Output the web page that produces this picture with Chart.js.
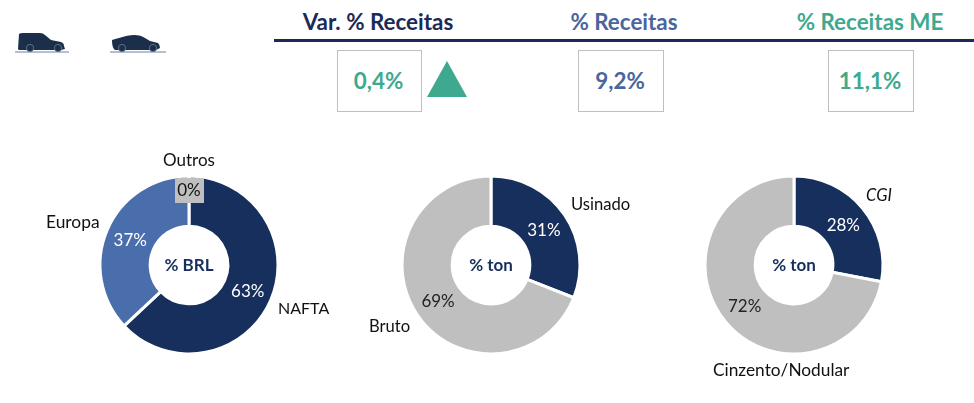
<!DOCTYPE html>
<html>
<head>
<meta charset="utf-8">
<script src="https://cdn.jsdelivr.net/npm/chart.js@4"></script>
<style>
  html, body { margin: 0; background: #fff; }
  #page { position: relative; width: 974px; height: 403px; overflow: hidden; font-family: Lato, sans-serif; }
  .abs { position: absolute; white-space: nowrap; }
  .head { top: 8px; font-size: 22.4px; font-weight: 700; line-height: 28px; transform: translateX(-50%); }
  .kpi { top: 50px; height: 60px; line-height: 60px; border: 1px solid #bfbfbf; text-align: center; font-size: 22.4px; font-weight: 700; box-sizing: content-box; }
  .lbl { font-size: 16.6px; color: #111; line-height: 20px; }
  .wrap { position: absolute; top: 165px; width: 200px; height: 200px; }
  #rule { position: absolute; left: 274px; top: 39px; width: 700px; height: 3px; background: #1b2a56; }
</style>
</head>
<body>
<div id="page">
  <svg class="abs" style="left:14px;top:30px;filter:blur(0.4px)" width="160" height="26" viewBox="0 0 160 26">
    <rect x="1" y="21" width="54" height="2" fill="#b4c0cf"/>
    <rect x="96" y="21" width="56" height="2" fill="#b4c0cf"/>
    <g fill="#1c2f4a">
      <path d="M5 4 Q6 3 9 3 L26 3 Q29 3 31 5 L37 10 L47 12 Q50 13 50 16 L51 19 L47 20 L5 20 L4 19 Z"/>
      <path d="M98 10 Q101 9 105 8 Q114 5 120 5 Q127 5 131 8 L136 11 L144 13 Q146 15 146 18 L142 20 L101 20 Q98 18 98 10 Z"/>
    </g>
    <g fill="#1c2f4a" stroke="#5d7188" stroke-width="1">
      <circle cx="16" cy="18" r="3.6"/><circle cx="44" cy="18" r="3.6"/>
      <circle cx="108" cy="18" r="3.6"/><circle cx="139" cy="18" r="3.6"/>
    </g>
  </svg>

  <div class="abs head" style="left:378px;color:#1b2a56">Var. % Receitas</div>
  <div class="abs head" style="left:624px;color:#4a659e">% Receitas</div>
  <div class="abs head" style="left:870px;color:#3fa98f">% Receitas ME</div>
  <div id="rule"></div>

  <div class="abs kpi" style="left:337px;width:83px;color:#3fa98f;text-indent:-2px">0,4%</div>
  <svg class="abs" style="left:427px;top:61px" width="40" height="36"><polygon points="20,0 40,36 0,36" fill="#3fa98f"/></svg>
  <div class="abs kpi" style="left:578px;width:84px;color:#4a659e;text-indent:-2px">9,2%</div>
  <div class="abs kpi" style="left:828px;width:84px;color:#3fa98f;text-indent:-2px">11,1%</div>

  <div class="wrap" style="left:89px"><canvas id="chartRegion" width="200" height="200"></canvas></div>
  <div class="wrap" style="left:391px"><canvas id="chartProcess" width="200" height="200"></canvas></div>
  <div class="wrap" style="left:694px"><canvas id="chartIron" width="200" height="200"></canvas></div>

  <div class="abs lbl" style="left:163px;top:150px;font-size:17px">Outros</div>
  <div class="abs lbl" style="left:46px;top:212px;font-size:17.4px">Europa</div>
  <div class="abs lbl" style="left:278px;top:298px;font-size:16px">NAFTA</div>
  <div class="abs lbl" style="left:571px;top:194px">Usinado</div>
  <div class="abs lbl" style="left:369px;top:316px">Bruto</div>
  <div class="abs lbl" style="left:866px;top:185px;font-style:italic">CGI</div>
  <div class="abs lbl" style="left:713px;top:360px;font-size:17.3px">Cinzento/Nodular</div>
</div>

<script>
const regionLabels = ['NAFTA', 'Europa', 'Outros'];
const regionValues = [63, 37, 0];
const processLabels = ['Usinado', 'Bruto'];
const processValues = [31, 69];
const ironLabels = ['CGI', 'Cinzento/Nodular'];
const ironValues = [28, 72];

const NAVY = '#172f5c';
const BLUE = '#4a6dab';
const GREY = '#bfbfbf';

// value labels in the ring plus the title in the hole
const ringLabels = {
  id: 'ringLabels',
  afterDatasetsDraw(chart, args, opts) {
    const { ctx } = chart;
    const meta = chart.getDatasetMeta(0);
    const values = chart.data.datasets[0].data;

    ctx.save();
    ctx.textAlign = 'center';
    ctx.textBaseline = 'middle';
    meta.data.forEach((arc, index) => {
      const { startAngle, endAngle, x, y } = arc.getProps(['startAngle', 'endAngle', 'x', 'y'], true);
      const mid = (startAngle + endAngle) / 2;
      let px = x + Math.cos(mid) * 64;
      let py = y + Math.sin(mid) * 64;
      const text = `${values[index]}%`;

      if (values[index] === 0) {
        // the empty slice gets a grey tag sitting at the top of the ring
        px = x;
        py = y - 75;
        ctx.fillStyle = GREY;
        ctx.fillRect(px - 14, py - 12, 29, 25);
        ctx.fillStyle = '#111';
      } else {
        ctx.fillStyle = opts.textColors[index];
      }
      ctx.font = '17px Lato, sans-serif';
      ctx.fillText(text, px, py + 1);
    });

    ctx.font = 'bold 17px Lato, sans-serif';
    ctx.fillStyle = NAVY;
    ctx.fillText(opts.title, meta.data[0].x, meta.data[0].y + 1);
    ctx.restore();
  }
};

function createDoughnut(canvasId, labels, values, colors, textColors, title) {
  return new Chart(document.getElementById(canvasId), {
    type: 'doughnut',
    data: {
      labels,
      datasets: [{
        data: values,
        backgroundColor: colors,
        borderColor: '#fff',
        borderWidth: 3,
        radius: 89,
        cutout: 43
      }]
    },
    options: {
      responsive: false,
      animation: false,
      plugins: {
        legend: { display: false },
        tooltip: { enabled: false },
        ringLabels: { textColors, title }
      }
    },
    plugins: [ringLabels]
  });
}

createDoughnut('chartRegion', regionLabels, regionValues, [NAVY, BLUE, GREY], ['#fff', '#fff', '#111'], '% BRL');
createDoughnut('chartProcess', processLabels, processValues, [NAVY, GREY], ['#fff', '#222'], '% ton');
createDoughnut('chartIron', ironLabels, ironValues, [NAVY, GREY], ['#fff', '#222'], '% ton');
</script>
</body>
</html>
